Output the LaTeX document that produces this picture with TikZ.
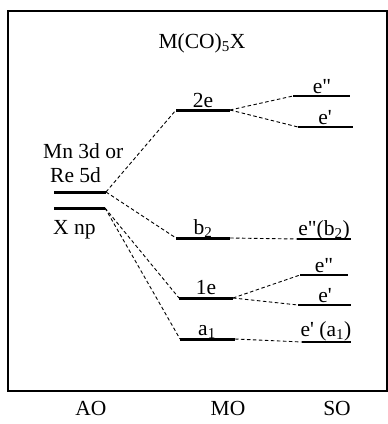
\documentclass[tikz,border=0pt]{standalone}
\usepackage{fontspec}
\newfontfamily\lib{Liberation Serif}
\begin{document}
\begin{tikzpicture}[x=1pt,y=-1pt,
  every node/.style={font=\lib\fontsize{21.5}{26}\selectfont, inner sep=0pt},
  lvl/.style={line width=3pt},
  so/.style={line width=1.1pt},
  conn/.style={line width=0.9pt, dash pattern=on 3.5pt off 2.5pt},
  lab/.style={anchor=base}]
\useasboundingbox (0,0) rectangle (388,424);
\draw[line width=1.2pt] (8,11) rectangle (387,391);
% AO
\coordinate (mnL) at (54,192); \coordinate (mnR) at (106,192);
\coordinate (xL) at (54,208); \coordinate (xR) at (105,208);
\draw[lvl] (mnL) -- (mnR);
\draw[lvl] (xL) -- (xR);
\node[anchor=base west] (mnlab) at (43,158) {Mn 3d or};
\node[anchor=base west] (relab) at (50,182) {Re 5d};
\node[anchor=base west] (xlab) at (53,234) {X np};
% MO
\coordinate (eeL) at (176,110); \coordinate (eeR) at (230,110);
\coordinate (bL) at (176,238); \coordinate (bR) at (230,238);
\coordinate (oeL) at (179,298); \coordinate (oeR) at (233,298);
\coordinate (aL) at (180,339); \coordinate (aR) at (235,339);
\draw[lvl] (eeL) -- (eeR);
\draw[lvl] (bL) -- (bR);
\draw[lvl] (oeL) -- (oeR);
\draw[lvl] (aL) -- (aR);
\node[lab] (eelab) at (203,107) {2e};
\node[lab] (blab) at (203,234) {b\textsubscript{2}};
\node[lab] (oelab) at (206,294) {1e};
\node[lab] (alab) at (207,335) {a\textsubscript{1}};
% SO
\coordinate (s1L) at (293,96); \coordinate (s1R) at (350,96);
\coordinate (s2L) at (298,127); \coordinate (s2R) at (353,127);
\coordinate (s3L) at (297,239); \coordinate (s3R) at (351,239);
\coordinate (s4L) at (300,275); \coordinate (s4R) at (348,275);
\coordinate (s5L) at (298,305); \coordinate (s5R) at (351,305);
\coordinate (s6L) at (302,342); \coordinate (s6R) at (351,342);
\foreach \i in {1,...,6} {\draw[so] (s\i L) -- (s\i R);}
\node[lab] (s1lab) at (322,93) {e"};
\node[lab] (s2lab) at (325,124) {e'};
\node[lab] (s3lab) at (324,235) {e"(b\textsubscript{2})};
\node[lab] (s4lab) at (324,272) {e"};
\node[lab] (s5lab) at (325,302) {e'};
\node[lab] (s6lab) at (326,336) {e' (a\textsubscript{1})};
% connectors
\draw[conn] (mnR) -- (eeL);
\draw[conn] (mnR) -- (bL);
\draw[conn] (xR) -- (oeL);
\draw[conn] (xR) -- (aL);
\draw[conn] (eeR) -- (s1L);
\draw[conn] (eeR) -- (s2L);
\draw[conn] (bR) -- (s3L);
\draw[conn] (oeR) -- (s4L);
\draw[conn] (oeR) -- (s5L);
\draw[conn] (aR) -- (s6L);
% titles
\node[lab] (title) at (202,48) {M(CO)\textsubscript{5}X};
\node[lab] (ao) at (91,415) {AO};
\node[lab] (mo) at (228,415) {MO};
\node[lab] (soo) at (337,415) {SO};
\end{tikzpicture}
\end{document}
